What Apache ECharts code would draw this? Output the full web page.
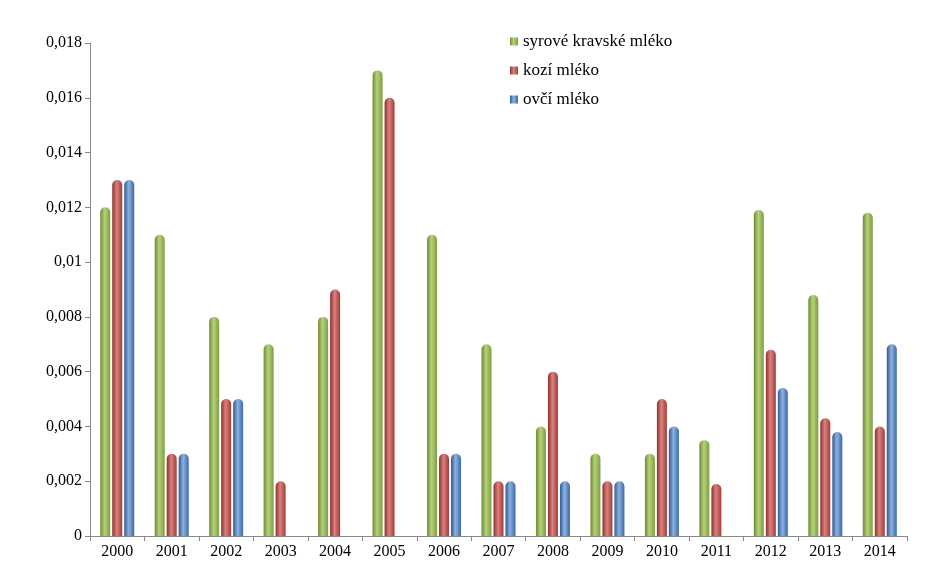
<!DOCTYPE html>
<html><head><meta charset="utf-8">
<script src="https://cdn.jsdelivr.net/npm/echarts@6/dist/echarts.min.js"></script>
<style>html,body{margin:0;padding:0;background:#fff}#c{width:945px;height:586px}</style>
</head><body><div id="c"></div>
<script>
const categories=['2000','2001','2002','2003','2004','2005','2006','2007','2008','2009','2010','2011','2012','2013','2014'];
const cow=[0.012,0.011,0.008,0.007,0.008,0.017,0.011,0.007,0.004,0.003,0.003,0.0035,0.0119,0.0088,0.0118];
const goat=[0.013,0.003,0.005,0.002,0.009,0.016,0.003,0.002,0.006,0.002,0.005,0.0019,0.0068,0.0043,0.004];
const sheep=[0.013,0.003,0.005,0,0,0,0.003,0.002,0.002,0.002,0.004,0,0.0054,0.0038,0.007];
const names=['syrové kravské mléko','kozí mléko','ovčí mléko'];
const cols=[['#6f8a35','#b5d27a','#7e9c40'],['#8e2f2d','#d9817e','#a33c3a'],['#2f5a8e','#8db1e0','#3b6aa4']];
function grad(c){return new echarts.graphic.LinearGradient(0,0,1,0,[{offset:0,color:c[0]},{offset:0.45,color:c[1]},{offset:1,color:c[2]}]);}
const data=[cow,goat,sheep];
const font='Liberation Serif';
const chart=echarts.init(document.getElementById('c'));
chart.setOption({
 animation:false,
 textStyle:{fontFamily:font},
 legend:{orient:'vertical',left:505,top:28,itemWidth:8,itemHeight:8,itemGap:12,icon:'rect',
   textStyle:{fontFamily:font,fontSize:17,color:'#000'}},
 grid:{left:90,right:38,top:43,bottom:50},
 xAxis:{type:'category',data:categories,axisTick:{show:true,alignWithLabel:false,lineStyle:{color:'#888'}},
   axisLine:{lineStyle:{color:'#888'}},axisLabel:{fontFamily:font,fontSize:16,color:'#000',margin:8}},
 yAxis:{type:'value',min:0,max:0.018,interval:0.002,
   axisLine:{show:true,lineStyle:{color:'#888'}},axisTick:{show:true,lineStyle:{color:'#888'}},
   splitLine:{show:false},
   axisLabel:{fontFamily:font,fontSize:16,color:'#000',formatter:v=>v===0?'0':String(+v.toFixed(3)).replace('.',',')}},
 series:data.map((d,i)=>({name:names[i],type:'bar',data:d,barWidth:10,barGap:'20%',
   itemStyle:{color:grad(cols[i]),borderRadius:[5,5,0,0]}})),
 color:['#9BBB59','#C0504D','#4F81BD']
});
</script></body></html>
